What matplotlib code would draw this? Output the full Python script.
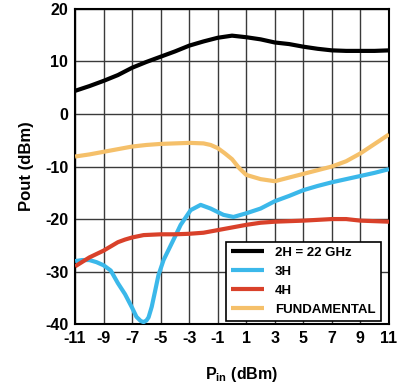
import numpy as np
import matplotlib
matplotlib.use("Agg")
from matplotlib import pyplot as plt

plt.rcParams["font.family"] = ["Liberation Sans Narrow", "Liberation Sans", "DejaVu Sans"]
plt.rcParams["font.weight"] = "bold"
plt.rcParams["mathtext.default"] = "regular"

# 2H = 22 GHz
x_2h = [-11, -10, -9, -8, -7, -6, -5, -4, -3, -2, -1, 0, 1, 2, 3, 4, 5, 6, 7, 8, 9, 10, 11]
y_2h = [4.4, 5.3, 6.3, 7.4, 8.8, 9.9, 10.9, 11.9, 13.0, 13.8, 14.5, 14.9, 14.6, 14.2,
        13.6, 13.3, 12.8, 12.4, 12.1, 12.0, 12.0, 12.0, 12.1]

# 3H
x_3h = [-11, -10.5, -10, -9.5, -9, -8.5, -8, -7.5, -7, -6.7, -6.4, -6.2, -6.0, -5.85,
        -5.63, -5.4, -5.16, -4.8, -4.35, -3.9, -3.6, -2.9, -2.2, -1.5, -0.6, 0.1, 1, 2,
        3, 4, 5, 6, 7, 8, 9, 10, 11]
y_3h = [-28.0, -27.8, -27.8, -28.2, -28.8, -29.8, -32.2, -34.3, -36.9, -38.6, -39.4,
        -39.6, -39.3, -38.7, -36.7, -33.8, -30.7, -27.8, -25.3, -22.8, -21.1, -18.3,
        -17.3, -18.0, -19.2, -19.6, -18.9, -18.0, -16.6, -15.6, -14.5, -13.7, -13.0,
        -12.4, -11.8, -11.2, -10.5]

# 4H
x_4h = [-11, -10, -9, -8.5, -8, -7.5, -7, -6.2, -5, -4, -3, -2, -0.8, 0, 1, 2, 3, 5, 7,
        8, 9, 11]
y_4h = [-29.0, -27.3, -26.0, -25.2, -24.4, -23.9, -23.5, -23.05, -22.9, -22.9, -22.8,
        -22.6, -22.0, -21.6, -21.1, -20.7, -20.5, -20.3, -20.0, -20.0, -20.3, -20.5]

# Fundamental
x_fu = [-11, -10, -9, -8, -7, -6, -5, -4, -3, -2, -1.5, -1, -0.5, 0, 0.5, 1, 2, 3, 4,
        5, 6, 7, 8, 9, 10, 11]
y_fu = [-8.1, -7.7, -7.2, -6.7, -6.2, -5.9, -5.7, -5.6, -5.5, -5.6, -5.9, -6.5, -7.5,
        -8.6, -10.3, -11.6, -12.4, -12.8, -12.1, -11.4, -10.7, -10.0, -9.0, -7.5, -5.7,
        -3.9]

xticks = list(range(-11, 12, 2))
yticks = [-40, -30, -20, -10, 0, 10, 20]

fig = plt.figure(figsize=(4.06, 3.85), dpi=100)
ax = fig.add_axes([0.185, 0.158, 0.773, 0.819])

style = dict(lw=3, solid_joinstyle="round", solid_capstyle="butt", zorder=3)
ax.plot(x_2h, y_2h, color="black", label="2H = 22 GHz", **style)
ax.plot(x_3h, y_3h, color="#3bb8ea", label="3H", **style)
ax.plot(x_4h, y_4h, color="#d9412a", label="4H", **style)
ax.plot(x_fu, y_fu, color="#f5c06a", label="FUNDAMENTAL", **style)

ax.set_xlim(-11, 11)
ax.set_ylim(-40, 20)
ax.set_xticks(xticks)
ax.set_yticks(yticks)
ax.set_xticklabels([str(t) for t in xticks], fontsize=11.5, fontweight="bold")
ax.set_yticklabels([str(t) for t in yticks], fontsize=11.5, fontweight="bold")
ax.tick_params(length=0, pad=5)
ax.grid(True, color="#3a3a3a", lw=1)
for s in ax.spines.values():
    s.set_linewidth(1.5)
    s.set_color("black")

ax.set_xlabel("P$_{in}$ (dBm)", fontsize=11.5, fontweight="bold", labelpad=10)
ax.xaxis.set_label_coords(0.53, -0.13)
ax.set_ylabel("Pout (dBm)", fontsize=12, fontweight="bold", labelpad=8)

leg = ax.legend(loc="lower right", fancybox=False, framealpha=1, edgecolor="black",
                prop={"size": 9.5, "weight": "bold"}, handlelength=2.5,
                handletextpad=0.8, borderaxespad=0.25, labelspacing=0.5,
                bbox_to_anchor=(0.985, 0.0))
leg.get_frame().set_linewidth(1.2)

fig.savefig("out.png", dpi=100)
